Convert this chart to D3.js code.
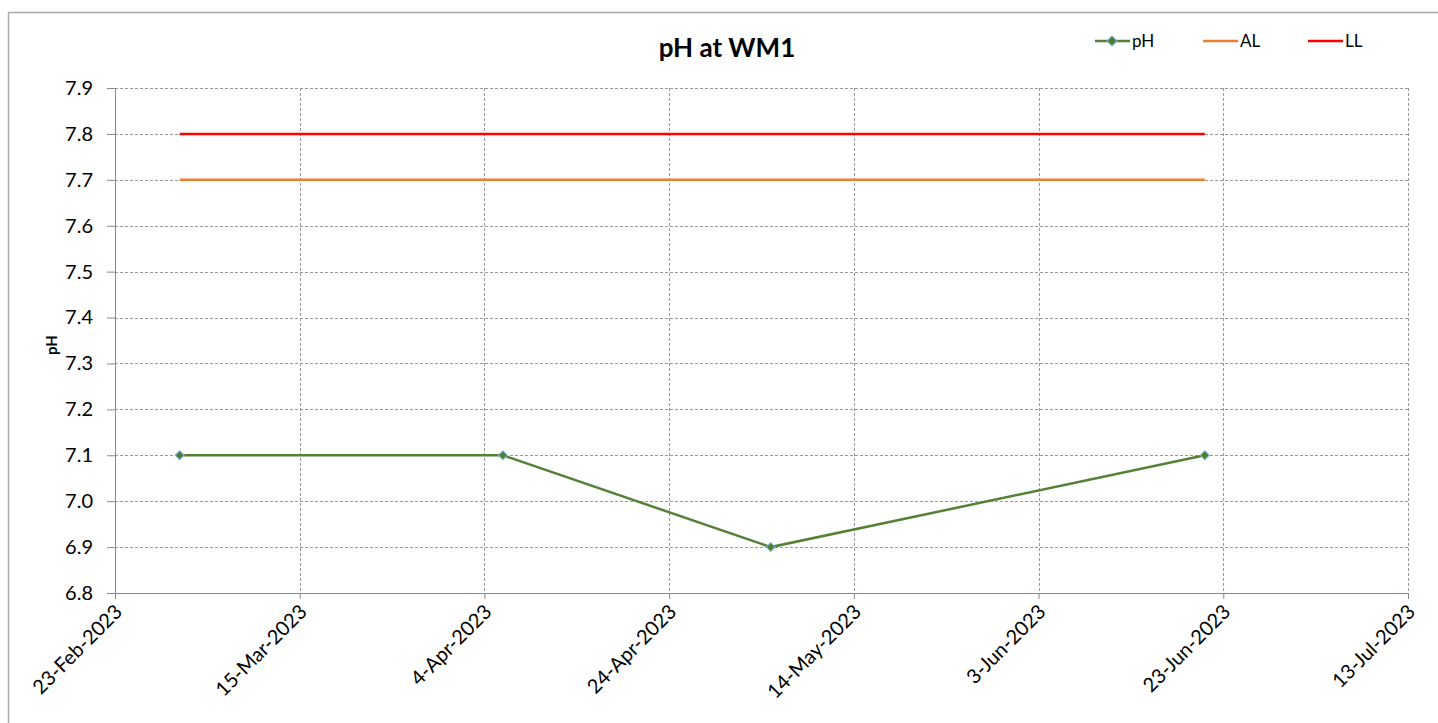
<!DOCTYPE html>
<html>
<head>
<meta charset="utf-8">
<script src="https://cdn.jsdelivr.net/npm/d3@7"></script>
<style>
body { margin: 0; background: #fff; }
text { font-family: Lato, "Open Sans", sans-serif; }
</style>
</head>
<body>
<div id="vis"></div>
<script>
var w = 1438;
var h = 723;

// data
var sampleDates = ["2023-03-02", "2023-04-06", "2023-05-05", "2023-06-21"];
var phValues = [7.1, 7.1, 6.9, 7.1];
var alValues = [7.7, 7.7, 7.7, 7.7];
var llValues = [7.8, 7.8, 7.8, 7.8];
var xTickLabels = ["23-Feb-2023", "15-Mar-2023", "4-Apr-2023", "24-Apr-2023", "14-May-2023", "3-Jun-2023", "23-Jun-2023", "13-Jul-2023"];
var yTicks = [6.8, 6.9, 7.0, 7.1, 7.2, 7.3, 7.4, 7.5, 7.6, 7.7, 7.8, 7.9];

var parseIso = d3.utcParse("%Y-%m-%d");
var parseTick = d3.utcParse("%d-%b-%Y");
var fmtTick = d3.utcFormat("%-d-%b-%Y");

var dates = sampleDates.map(parseIso);
var xTickDates = xTickLabels.map(parseTick);

var plotLeft = 115, plotRight = 1408, plotTop = 88, plotBottom = 593;

var x = d3.scaleUtc()
    .domain([xTickDates[0], xTickDates[xTickDates.length - 1]])
    .range([plotLeft, plotRight]);
var y = d3.scaleLinear()
    .domain([6.8, 7.9])
    .range([plotBottom, plotTop]);

var svg = d3.select("#vis")
    .append("svg")
    .attr("width", w)
    .attr("height", h);

// chart border (only top and left visible)
svg.append("rect")
    .attr("x", 8.5).attr("y", 12.5)
    .attr("width", w).attr("height", h)
    .attr("fill", "none")
    .attr("stroke", "#aaa")
    .attr("stroke-width", 1.5);

// gridlines
svg.append("g")
    .selectAll("line")
    .data(yTicks.slice(1))
    .enter()
    .append("line")
    .attr("x1", plotLeft).attr("x2", plotRight)
    .attr("y1", function(d) { return Math.round(y(d)) + 0.5; })
    .attr("y2", function(d) { return Math.round(y(d)) + 0.5; })
    .attr("stroke", "#999")
    .attr("stroke-dasharray", "3,2");

svg.append("g")
    .selectAll("line")
    .data(xTickDates.slice(1))
    .enter()
    .append("line")
    .attr("x1", function(d) { return Math.round(x(d)) + 0.5; })
    .attr("x2", function(d) { return Math.round(x(d)) + 0.5; })
    .attr("y1", plotTop).attr("y2", plotBottom)
    .attr("stroke", "#999")
    .attr("stroke-dasharray", "3,2");

// axes
var yAxis = svg.append("g")
    .attr("transform", "translate(" + plotLeft + ",0)")
    .call(d3.axisLeft(y).tickValues(yTicks).tickFormat(d3.format(".1f")).tickSize(8).tickPadding(14));
yAxis.select(".domain").attr("stroke", "#888");
yAxis.selectAll(".tick line").attr("stroke", "#888");
yAxis.selectAll("text")
    .style("font-size", "20px")
    .attr("fill", "#000");

var xAxis = svg.append("g")
    .attr("transform", "translate(0," + plotBottom + ")")
    .call(d3.axisBottom(x).tickValues(xTickDates).tickFormat(fmtTick).tickSize(6));
xAxis.select(".domain").attr("stroke", "#888");
xAxis.selectAll(".tick line").attr("stroke", "#888");
xAxis.selectAll("text")
    .style("font-size", "20px")
    .attr("fill", "#000")
    .attr("text-anchor", "end")
    .attr("dy", null)
    .attr("y", 0)
    .attr("transform", "translate(8,20) rotate(-45)");

// y label
svg.append("text")
    .text("pH")
    .attr("transform", "translate(57,345) rotate(-90)")
    .attr("text-anchor", "middle")
    .style("font-size", "15px")
    .style("font-weight", "bold");

// title
svg.append("text")
    .text("pH at WM1")
    .attr("x", 727)
    .attr("y", 57)
    .attr("text-anchor", "middle")
    .style("font-size", "26px")
    .style("font-weight", "bold");

// lines
var line = d3.line()
    .x(function(d) { return x(d[0]); })
    .y(function(d) { return y(d[1]); });

svg.append("path")
    .datum(d3.zip(dates, llValues))
    .attr("d", line)
    .attr("fill", "none")
    .attr("stroke", "#ff0000")
    .attr("stroke-width", 2.5);

svg.append("path")
    .datum(d3.zip(dates, alValues))
    .attr("d", line)
    .attr("fill", "none")
    .attr("stroke", "#ed7d31")
    .attr("stroke-width", 2.5);

svg.append("path")
    .datum(d3.zip(dates, phValues))
    .attr("d", line)
    .attr("fill", "none")
    .attr("stroke", "#538135")
    .attr("stroke-width", 2.5);

// square diamond markers (square rotated 45 degrees)
var diamond = d3.symbol().type(d3.symbolSquare).size(40);

svg.selectAll(".marker")
    .data(d3.zip(dates, phValues))
    .enter()
    .append("path")
    .attr("class", "marker")
    .attr("d", diamond)
    .attr("transform", function(d) { return "translate(" + x(d[0]) + "," + y(d[1]) + ") rotate(45)"; })
    .attr("fill", "#4f7f2e")
    .attr("stroke", "#7eb3e0")
    .attr("stroke-width", 1);

// legend
var legendItems = [
    { name: "pH", color: "#538135", x: 1095, marker: true },
    { name: "AL", color: "#ed7d31", x: 1203, marker: false },
    { name: "LL", color: "#ff0000", x: 1308, marker: false }
];
var lg = svg.append("g").selectAll("g")
    .data(legendItems)
    .enter()
    .append("g")
    .attr("transform", function(d) { return "translate(" + d.x + ",41)"; });
lg.append("line")
    .attr("x1", 0).attr("x2", 35)
    .attr("y1", 0).attr("y2", 0)
    .attr("stroke", function(d) { return d.color; })
    .attr("stroke-width", 2.5);
lg.filter(function(d) { return d.marker; })
    .append("path")
    .attr("d", d3.symbol().type(d3.symbolSquare).size(50))
    .attr("transform", "translate(17,0) rotate(45)")
    .attr("fill", "#4f7f2e")
    .attr("stroke", "#7eb3e0");
lg.append("text")
    .text(function(d) { return d.name; })
    .attr("x", 37)
    .attr("y", 6)
    .style("font-size", "17px");
</script>
</body>
</html>
